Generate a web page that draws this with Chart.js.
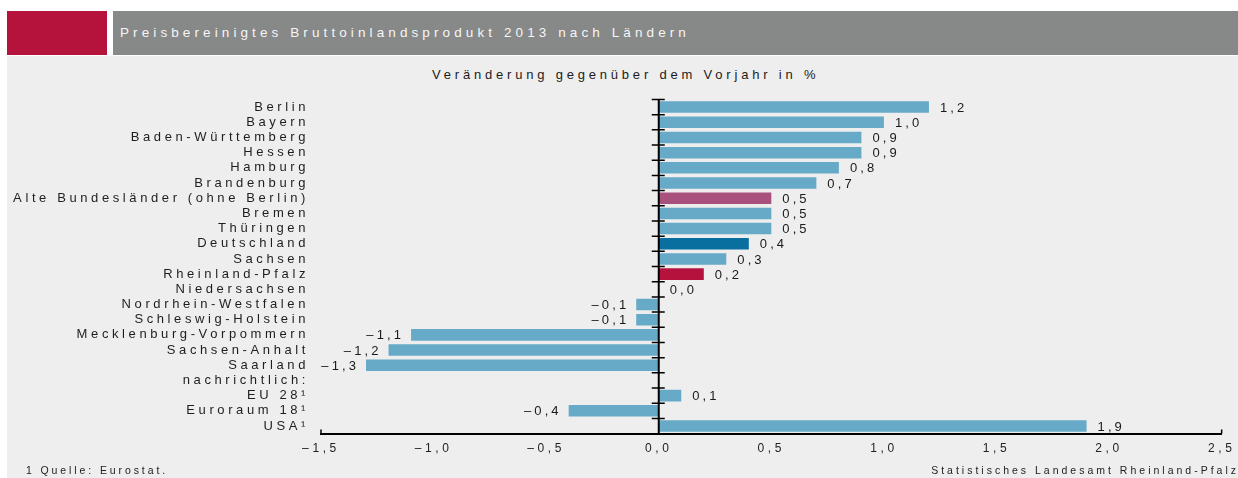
<!DOCTYPE html>
<html><head><meta charset="utf-8">
<script src="https://cdn.jsdelivr.net/npm/chart.js@4/dist/chart.umd.min.js"></script>
<style>
html,body{margin:0;padding:0;}
body{width:1238px;height:478px;background:#ffffff;position:relative;overflow:hidden;font-family:"Liberation Sans",Arial,sans-serif;}
#red{position:absolute;left:7px;top:11px;width:100px;height:44px;background:#b5133c;}
#hbar{position:absolute;left:113px;top:11px;width:1125px;height:44px;background:#878888;}
#htitle{position:absolute;left:120px;top:25px;color:#f6f6f6;font-size:13.5px;line-height:16px;letter-spacing:4.1px;white-space:nowrap;}
#panel{position:absolute;left:7px;top:56px;width:1231px;height:422px;background:#edeeed;}
#sub{position:absolute;left:432px;top:67px;color:#1c1c1c;font-size:13px;line-height:15px;letter-spacing:3.8px;white-space:nowrap;}
#chartwrap{position:absolute;left:7px;top:57px;width:1231px;height:421px;}
#fnote{position:absolute;left:26px;top:464px;color:#222;font-size:10.5px;line-height:13px;letter-spacing:2.9px;white-space:nowrap;}
#src{position:absolute;right:-1px;top:464px;color:#222;font-size:10.5px;line-height:13px;letter-spacing:3px;white-space:nowrap;}
</style></head>
<body>
<div id="red"></div>
<div id="hbar"></div>
<div id="htitle">Preisbereinigtes Bruttoinlandsprodukt 2013 nach Ländern</div>
<div id="panel"></div>
<div id="sub">Veränderung gegenüber dem Vorjahr in %</div>
<div id="chartwrap"><canvas id="c" width="1231" height="421"></canvas></div>
<div id="fnote">1 Quelle: Eurostat.</div>
<div id="src">Statistisches Landesamt Rheinland-Pfalz</div>
<script>
// ---- data ----
const categories = [
  'Berlin','Bayern','Baden-Württemberg','Hessen','Hamburg','Brandenburg',
  'Alte Bundesländer (ohne Berlin)','Bremen','Thüringen','Deutschland','Sachsen',
  'Rheinland-Pfalz','Niedersachsen','Nordrhein-Westfalen','Schleswig-Holstein',
  'Mecklenburg-Vorpommern','Sachsen-Anhalt','Saarland','nachrichtlich:',
  'EU 28¹','Euroraum 18¹','USA¹'
];
const changes = [1.2,1.0,0.9,0.9,0.8,0.7,0.5,0.5,0.5,0.4,0.3,0.2,0.0,-0.1,-0.1,-1.1,-1.2,-1.3,null,0.1,-0.4,1.9];
const xTickValues = [-1.5,-1.0,-0.5,0.0,0.5,1.0,1.5,2.0,2.5];

// ---- styles ----
const baseColor = '#66aac8';
const highlightColors = {
  'Alte Bundesländer (ohne Berlin)': '#a9517d',
  'Deutschland': '#096f9f',
  'Rheinland-Pfalz': '#b5133d'
};
const FONT = '"Liberation Sans", Arial, sans-serif';
const fmt = v => v.toFixed(1).replace('.', ',').replace('-', '–');

const spacingPlugin = {
  id: 'spacing',
  beforeDraw(chart) { chart.ctx.letterSpacing = '3.6px'; },
  beforeDatasetsDraw(chart) { chart.ctx.letterSpacing = '0px'; },
  afterDatasetsDraw(chart) {
    const ctx = chart.ctx;
    const xs = chart.scales.x, ys = chart.scales.y;
    const x0 = xs.getPixelForValue(0);
    const step = ys.getPixelForValue(1) - ys.getPixelForValue(0);
    ctx.save();
    ctx.letterSpacing = '0px';
    ctx.strokeStyle = '#000';
    // zero axis line
    ctx.lineWidth = 2;
    ctx.beginPath();
    ctx.moveTo(x0, ys.getPixelForValue(0) - step / 2);
    ctx.lineTo(x0, chart.chartArea.bottom);
    ctx.stroke();
    // category boundary ticks
    ctx.lineWidth = 1.5;
    ctx.beginPath();
    for (let i = 0; i < categories.length; i++) {
      const yy = ys.getPixelForValue(i) - step / 2;
      ctx.moveTo(x0 - 7, yy);
      ctx.lineTo(x0 + 6, yy);
    }
    ctx.stroke();
    // value labels
    const meta = chart.getDatasetMeta(0);
    ctx.font = '13px ' + FONT;
    ctx.fillStyle = '#1a1a1a';
    ctx.textBaseline = 'middle';
    ctx.letterSpacing = '3.1px';
    meta.data.forEach((el, i) => {
      const v = changes[i];
      if (v === null) return;
      if (v >= 0) {
        ctx.textAlign = 'left';
        ctx.fillText(fmt(v), el.x + 11, el.y + 1);
      } else {
        ctx.textAlign = 'right';
        ctx.fillText(fmt(v), el.x - 7, el.y + 1);
      }
    });
    // x axis end marks
    ctx.letterSpacing = '0px';
    ctx.lineWidth = 1.5;
    ctx.beginPath();
    [xs.min, xs.max].forEach(v => {
      const px = xs.getPixelForValue(v);
      ctx.moveTo(px, chart.chartArea.bottom);
      ctx.lineTo(px, chart.chartArea.bottom - 4);
    });
    ctx.stroke();
    ctx.restore();
    ctx.letterSpacing = '2px';
  },
  afterDraw(chart) { chart.ctx.letterSpacing = '0px'; }
};

new Chart(document.getElementById('c').getContext('2d'), {
  type: 'bar',
  data: {
    labels: categories,
    datasets: [{
      data: changes,
      backgroundColor: c => highlightColors[categories[c.dataIndex]] || baseColor,
      borderWidth: 0,
      barPercentage: 0.76,
      categoryPercentage: 1.0
    }]
  },
  options: {
    indexAxis: 'y',
    responsive: false,
    animation: false,
    layout: { padding: { left: 0, right: 16, top: 42.5, bottom: 14 } },
    plugins: { legend: { display: false }, tooltip: { enabled: false }, title: { display: false } },
    scales: {
      x: {
        type: 'linear',
        min: xTickValues[0],
        max: xTickValues[xTickValues.length - 1],
        z: 1,
        afterBuildTicks: s => { s.ticks = xTickValues.map(v => ({ value: v })); },
        ticks: { callback: v => fmt(v), color: '#222', font: { family: FONT, size: 12 }, padding: 8, maxRotation: 0 },
        grid: { display: false, drawTicks: false },
        border: { display: true, color: '#000', width: 2 }
      },
      y: {
        afterFit: s => { s.width = 314; },
        ticks: { color: '#1e1e1e', font: { family: FONT, size: 13 }, padding: 12, autoSkip: false },
        grid: { display: false, drawTicks: false },
        border: { display: false }
      }
    }
  },
  plugins: [spacingPlugin]
});
</script>
</body></html>
